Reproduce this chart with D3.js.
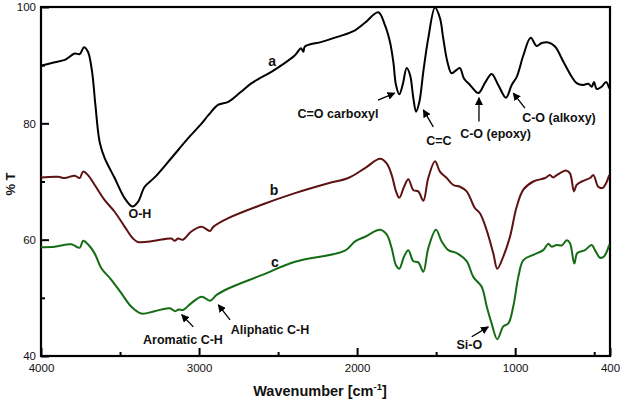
<!DOCTYPE html>
<html>
<head>
<meta charset="utf-8">
<script src="https://cdn.jsdelivr.net/npm/d3@7"></script>
<style>
  body { margin: 0; background: #fff; }
  svg { font-family: "Liberation Sans", Arial, sans-serif; }
</style>
</head>
<body>
<div id="plot"></div>
<script>
// FTIR spectra: wavenumber (cm-1) and transmittance (%T)
const waveA = [4000, 3913, 3850, 3787, 3755, 3728, 3703, 3677, 3656, 3629, 3597, 3534, 3470, 3422, 3386, 3344, 3281, 3176, 3070, 2986, 2941, 2878, 2815, 2740, 2667, 2540, 2477, 2393, 2355, 2340, 2330, 2224, 2119, 2013, 1950, 1866, 1824, 1792, 1771, 1754, 1733, 1712, 1686, 1665, 1644, 1627, 1606, 1581, 1550, 1507, 1476, 1455, 1429, 1402, 1370, 1349, 1324, 1286, 1233, 1190, 1149, 1107, 1058, 1022, 990, 948, 902, 864, 832, 790, 748, 695, 642, 611, 569, 537, 516, 501, 484, 453, 425, 405];
const transA = [89.9, 90.5, 90.9, 92.0, 91.9, 93.1, 92.3, 88.9, 83.2, 76.8, 74.0, 70.6, 67.1, 65.7, 66.5, 69.1, 70.7, 74.0, 77.4, 79.9, 81.4, 83.2, 83.7, 85.3, 86.9, 88.9, 90.0, 91.7, 92.9, 92.3, 93.2, 94.0, 94.9, 96.0, 97.3, 99.1, 96.9, 94.0, 90.6, 86.6, 85.0, 86.6, 89.5, 88.3, 84.3, 82.0, 83.7, 88.9, 94.6, 99.9, 98.1, 94.6, 90.6, 88.6, 89.2, 89.5, 87.7, 86.6, 85.2, 87.0, 88.5, 86.6, 84.4, 86.6, 88.0, 91.7, 94.7, 93.3, 93.8, 93.9, 93.2, 90.6, 88.0, 86.9, 86.6, 86.8, 86.3, 87.1, 85.9, 86.3, 87.1, 86.0];

const waveB = [4000, 3892, 3850, 3787, 3755, 3734, 3703, 3660, 3597, 3534, 3470, 3418, 3386, 3281, 3176, 3154, 3133, 3102, 3049, 2983, 2931, 2910, 2815, 2604, 2393, 2182, 2056, 1950, 1855, 1813, 1781, 1754, 1733, 1703, 1676, 1644, 1613, 1581, 1550, 1507, 1476, 1433, 1391, 1349, 1307, 1254, 1222, 1180, 1138, 1113, 1075, 1033, 990, 948, 885, 811, 780, 760, 737, 678, 653, 628, 611, 579, 526, 505, 474, 446, 425, 405];
const transB = [70.7, 70.8, 70.6, 71.0, 70.6, 71.7, 71.1, 69.4, 66.8, 64.8, 62.2, 60.2, 59.6, 59.8, 60.2, 59.8, 60.2, 60.0, 61.4, 62.2, 61.5, 62.2, 63.7, 66.0, 68.0, 69.7, 70.6, 72.3, 73.9, 73.1, 71.1, 68.3, 67.2, 69.1, 70.4, 68.5, 68.3, 66.7, 70.6, 73.5, 71.7, 70.6, 69.4, 69.1, 68.3, 65.4, 64.5, 61.6, 57.6, 55.0, 57.1, 60.5, 65.7, 68.6, 70.0, 70.6, 71.1, 70.7, 71.1, 71.9, 71.4, 68.3, 69.4, 70.0, 70.6, 71.1, 69.1, 68.9, 69.7, 71.1];

const waveC = [4000, 3913, 3808, 3755, 3734, 3703, 3660, 3618, 3555, 3492, 3429, 3365, 3281, 3186, 3150, 3129, 3102, 3049, 2983, 2931, 2889, 2815, 2604, 2393, 2077, 2013, 1950, 1855, 1813, 1781, 1754, 1733, 1703, 1676, 1644, 1613, 1581, 1550, 1501, 1465, 1423, 1370, 1307, 1265, 1212, 1180, 1149, 1113, 1075, 1043, 1012, 980, 948, 885, 822, 790, 770, 737, 705, 674, 653, 626, 607, 558, 516, 495, 463, 438, 405];
const transC = [58.7, 58.8, 59.2, 58.6, 59.8, 59.2, 57.6, 55.1, 53.1, 50.8, 48.5, 47.3, 47.7, 48.2, 47.7, 48.0, 47.9, 49.1, 50.2, 49.5, 50.5, 51.6, 53.9, 56.2, 58.1, 59.7, 60.5, 61.7, 60.9, 58.5, 55.6, 55.0, 57.1, 58.2, 56.3, 56.1, 54.5, 58.5, 61.7, 59.7, 58.2, 57.7, 56.3, 53.6, 51.9, 48.5, 45.6, 42.9, 45.1, 45.6, 48.5, 53.6, 56.5, 57.4, 58.2, 59.3, 58.8, 59.1, 59.0, 59.9, 59.4, 55.9, 57.7, 58.2, 59.1, 58.2, 56.9, 57.1, 59.1];

const seriesNames = ["a", "b", "c"];
const seriesColors = ["#000000", "#5e1212", "#146c14"];

const xMajorTicks = [4000, 3000, 2000, 1000, 400];
const xMinorTicks = [3500, 2500, 1500, 500];
const yMajorTicks = [100, 80, 60, 40];
const yMinorTicks = [90, 70, 50];

// annotation labels: text, wavenumber, %T
const bandLabels = [
  ["C=O carboxyl", 2121, 81.7],
  ["C=C", 1482, 77.1],
  ["C-O (epoxy)", 1124, 78.3],
  ["C-O (alkoxy)", 723, 80.9],
  ["O-H", 3374, 64.4],
  ["Aromatic C-H", 3102, 42.8],
  ["Aliphatic C-H", 2551, 44.6],
  ["Si-O", 1290, 41.9]
];
// arrows: [fromWn, fromT, toWn, toT]
const arrows = [
  [1868, 84.0, 1762, 85.2],
  [1518, 79.4, 1581, 82.3],
  [1229, 80.3, 1229, 84.4],
  [938, 82.6, 1012, 85.2],
  [3036, 45.0, 3110, 47.1],
  [2804, 46.2, 2878, 48.8],
  [1275, 43.3, 1170, 45.0]
];
const seriesLabelPos = [[2538, 90.7], [2526, 68.5], [2520, 56.2]];

const margin = { top: 7, right: 13, bottom: 46, left: 41 };
const width = 623 - margin.left - margin.right;
const height = 402 - margin.top - margin.bottom;

const svg = d3.select("#plot").append("svg")
  .attr("width", 623)
  .attr("height", 402);

const g = svg.append("g")
  .attr("transform", `translate(${margin.left},${margin.top})`);

const x = d3.scaleLinear().domain([4000, 400]).range([0, width]);
const y = d3.scaleLinear().domain([40, 100]).range([height, 0]);

// arrow marker
svg.append("defs").append("marker")
  .attr("id", "head")
  .attr("viewBox", "0 0 10 10")
  .attr("refX", 9).attr("refY", 5)
  .attr("markerWidth", 8).attr("markerHeight", 8)
  .attr("markerUnits", "userSpaceOnUse")
  .attr("orient", "auto")
  .append("path").attr("d", "M0,0L10,5L0,10z").attr("fill", "#000");

// axes with inward ticks
g.append("g")
  .attr("transform", `translate(0,${height})`)
  .call(d3.axisBottom(x).tickValues(xMajorTicks).tickFormat(d3.format("d")).tickSize(-8).tickPadding(8));
g.append("g")
  .attr("transform", `translate(0,${height})`)
  .call(d3.axisBottom(x).tickValues(xMinorTicks).tickFormat("").tickSize(-4));

g.append("g")
  .call(d3.axisLeft(y).tickValues(yMajorTicks).tickSize(-8).tickPadding(5));
g.append("g")
  .call(d3.axisLeft(y).tickValues(yMinorTicks).tickFormat("").tickSize(-4));

g.selectAll(".tick line").attr("stroke", "#000").attr("stroke-width", 2);
g.selectAll(".domain").remove();
g.selectAll(".tick text")
  .attr("font-size", 11.5)
  .attr("fill", "#111");

// frame
g.append("rect")
  .attr("x", 0).attr("y", 0)
  .attr("width", width).attr("height", height)
  .attr("fill", "none")
  .attr("stroke", "#000")
  .attr("stroke-width", 2.2);

// spectra
const line = d3.line()
  .x(d => x(d[0]))
  .y(d => y(d[1]))
  .curve(d3.curveCatmullRom.alpha(0.5));

const allSeries = [
  d3.zip(waveA, transA),
  d3.zip(waveB, transB),
  d3.zip(waveC, transC)
];

allSeries.forEach((data, i) => {
  g.append("path")
    .datum(data)
    .attr("d", line)
    .attr("fill", "none")
    .attr("stroke", seriesColors[i])
    .attr("stroke-width", 2)
    .attr("stroke-linejoin", "round");
});

// series letters
g.selectAll(".serlab")
  .data(seriesNames)
  .join("text")
  .attr("class", "serlab")
  .attr("x", (d, i) => x(seriesLabelPos[i][0]))
  .attr("y", (d, i) => y(seriesLabelPos[i][1]))
  .attr("dy", "0.35em")
  .attr("text-anchor", "middle")
  .attr("font-size", 14)
  .attr("font-weight", "bold")
  .attr("fill", "#111")
  .text(d => d);

// band labels
g.selectAll(".band")
  .data(bandLabels)
  .join("text")
  .attr("class", "band")
  .attr("x", d => x(d[1]))
  .attr("y", d => y(d[2]))
  .attr("dy", "0.35em")
  .attr("text-anchor", "middle")
  .attr("font-size", 12.5)
  .attr("font-weight", "bold")
  .attr("fill", "#111")
  .text(d => d[0]);

g.selectAll(".arrow")
  .data(arrows)
  .join("line")
  .attr("class", "arrow")
  .attr("x1", d => x(d[0])).attr("y1", d => y(d[1]))
  .attr("x2", d => x(d[2])).attr("y2", d => y(d[3]))
  .attr("stroke", "#000")
  .attr("stroke-width", 1.3)
  .attr("marker-end", "url(#head)");

// axis titles
const xt = svg.append("text")
  .attr("x", 320)
  .attr("y", 396)
  .attr("text-anchor", "middle")
  .attr("font-size", 14.5)
  .attr("font-weight", "bold")
  .attr("fill", "#111");
xt.append("tspan").text("Wavenumber [cm");
xt.append("tspan").attr("font-size", 9.5).attr("dy", -6).text("-1");
xt.append("tspan").attr("dy", 6).text("]");

svg.append("text")
  .attr("transform", "translate(15,184) rotate(-90)")
  .attr("text-anchor", "middle")
  .attr("font-size", 13)
  .attr("font-weight", "bold")
  .attr("fill", "#111")
  .text("% T");
</script>
</body>
</html>
